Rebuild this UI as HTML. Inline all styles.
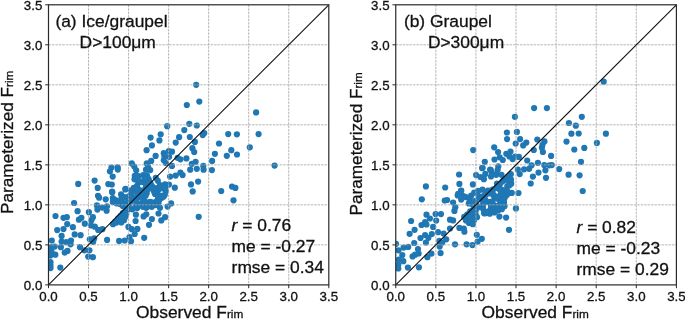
<!DOCTYPE html>
<html lang="en"><head><meta charset="utf-8"><title>Frim scatter</title>
<style>html,body{margin:0;padding:0;background:#fff}body{width:685px;height:319px;overflow:hidden}text{stroke:#111;stroke-width:0.3px}svg{display:block;will-change:transform;transform:translateZ(0)}</style>
</head><body>
<svg width="685" height="319" viewBox="0 0 685 319" font-family="'Liberation Sans', Arial, sans-serif" fill="#111">
<rect width="685" height="319" fill="#fff"/>
<clipPath id="clip-a"><rect x="48.5" y="4.8" width="280.30" height="280.10"/></clipPath>
<g fill="#1f77b4" clip-path="url(#clip-a)">
<circle cx="51.8" cy="240.5" r="3.1"/>
<circle cx="61.6" cy="235.9" r="3.1"/>
<circle cx="61.6" cy="241.5" r="3.1"/>
<circle cx="66.3" cy="242.2" r="3.1"/>
<circle cx="71.0" cy="240.5" r="3.1"/>
<circle cx="70.6" cy="244.3" r="3.1"/>
<circle cx="74.7" cy="234.4" r="3.1"/>
<circle cx="80.6" cy="235.2" r="3.1"/>
<circle cx="50.9" cy="247.2" r="3.1"/>
<circle cx="54.7" cy="246.6" r="3.1"/>
<circle cx="51.5" cy="251.6" r="3.1"/>
<circle cx="55.3" cy="254.7" r="3.1"/>
<circle cx="50.3" cy="255.6" r="3.1"/>
<circle cx="60.9" cy="247.2" r="3.1"/>
<circle cx="64.7" cy="252.6" r="3.1"/>
<circle cx="67.5" cy="250.9" r="3.1"/>
<circle cx="80.0" cy="247.2" r="3.1"/>
<circle cx="84.4" cy="250.3" r="3.1"/>
<circle cx="89.4" cy="250.3" r="3.1"/>
<circle cx="88.2" cy="256.6" r="3.1"/>
<circle cx="92.9" cy="257.2" r="3.1"/>
<circle cx="89.8" cy="239.3" r="3.1"/>
<circle cx="94.2" cy="238.4" r="3.1"/>
<circle cx="93.2" cy="241.8" r="3.1"/>
<circle cx="50.5" cy="262.2" r="3.1"/>
<circle cx="50.5" cy="265.4" r="3.1"/>
<circle cx="50.5" cy="268.1" r="3.1"/>
<circle cx="60.3" cy="267.6" r="3.1"/>
<circle cx="107.1" cy="239.9" r="3.1"/>
<circle cx="119.1" cy="240.9" r="3.1"/>
<circle cx="124.7" cy="240.5" r="3.1"/>
<circle cx="129.5" cy="237.1" r="3.1"/>
<circle cx="131.0" cy="241.2" r="3.1"/>
<circle cx="134.7" cy="234.0" r="3.1"/>
<circle cx="144.2" cy="237.8" r="3.1"/>
<circle cx="74.1" cy="203.0" r="3.1"/>
<circle cx="77.6" cy="211.2" r="3.1"/>
<circle cx="55.5" cy="216.0" r="3.1"/>
<circle cx="63.5" cy="217.8" r="3.1"/>
<circle cx="66.8" cy="217.2" r="3.1"/>
<circle cx="67.2" cy="224.1" r="3.1"/>
<circle cx="72.9" cy="227.2" r="3.1"/>
<circle cx="63.5" cy="229.1" r="3.1"/>
<circle cx="57.2" cy="230.1" r="3.1"/>
<circle cx="78.9" cy="219.7" r="3.1"/>
<circle cx="81.4" cy="217.8" r="3.1"/>
<circle cx="84.8" cy="223.7" r="3.1"/>
<circle cx="88.9" cy="212.2" r="3.1"/>
<circle cx="92.9" cy="217.2" r="3.1"/>
<circle cx="91.4" cy="220.3" r="3.1"/>
<circle cx="78.2" cy="183.9" r="3.1"/>
<circle cx="94.6" cy="180.6" r="3.1"/>
<circle cx="97.7" cy="187.9" r="3.1"/>
<circle cx="111.5" cy="167.6" r="3.1"/>
<circle cx="109.9" cy="171.3" r="3.1"/>
<circle cx="117.7" cy="167.3" r="3.1"/>
<circle cx="117.8" cy="169.6" r="3.1"/>
<circle cx="112.7" cy="176.6" r="3.1"/>
<circle cx="108.3" cy="184.1" r="3.1"/>
<circle cx="111.8" cy="184.5" r="3.1"/>
<circle cx="125.4" cy="189.4" r="3.1"/>
<circle cx="112.2" cy="192.3" r="3.1"/>
<circle cx="167.2" cy="126.2" r="3.1"/>
<circle cx="160.7" cy="134.3" r="3.1"/>
<circle cx="150.6" cy="137.6" r="3.1"/>
<circle cx="159.4" cy="140.4" r="3.1"/>
<circle cx="151.9" cy="145.4" r="3.1"/>
<circle cx="146.6" cy="150.2" r="3.1"/>
<circle cx="179.1" cy="137.2" r="3.1"/>
<circle cx="175.7" cy="142.6" r="3.1"/>
<circle cx="163.8" cy="153.2" r="3.1"/>
<circle cx="168.8" cy="151.0" r="3.1"/>
<circle cx="172.0" cy="151.7" r="3.1"/>
<circle cx="189.3" cy="123.8" r="3.1"/>
<circle cx="196.8" cy="125.5" r="3.1"/>
<circle cx="184.3" cy="130.1" r="3.1"/>
<circle cx="189.8" cy="137.0" r="3.1"/>
<circle cx="202.7" cy="135.1" r="3.1"/>
<circle cx="204.3" cy="133.1" r="3.1"/>
<circle cx="194.9" cy="141.9" r="3.1"/>
<circle cx="192.4" cy="148.2" r="3.1"/>
<circle cx="194.2" cy="152.0" r="3.1"/>
<circle cx="228.2" cy="134.1" r="3.1"/>
<circle cx="236.9" cy="134.3" r="3.1"/>
<circle cx="219.0" cy="143.5" r="3.1"/>
<circle cx="231.3" cy="150.2" r="3.1"/>
<circle cx="258.6" cy="134.1" r="3.1"/>
<circle cx="249.8" cy="147.3" r="3.1"/>
<circle cx="196.2" cy="84.8" r="3.1"/>
<circle cx="199.3" cy="101.6" r="3.1"/>
<circle cx="186.8" cy="105.0" r="3.1"/>
<circle cx="256.1" cy="112.4" r="3.1"/>
<circle cx="274.6" cy="165.6" r="3.1"/>
<circle cx="186.4" cy="158.4" r="3.1"/>
<circle cx="195.6" cy="161.8" r="3.1"/>
<circle cx="191.8" cy="163.8" r="3.1"/>
<circle cx="190.2" cy="169.7" r="3.1"/>
<circle cx="196.8" cy="168.8" r="3.1"/>
<circle cx="203.3" cy="165.9" r="3.1"/>
<circle cx="203.6" cy="169.7" r="3.1"/>
<circle cx="212.1" cy="160.9" r="3.1"/>
<circle cx="211.9" cy="170.1" r="3.1"/>
<circle cx="214.9" cy="153.8" r="3.1"/>
<circle cx="226.8" cy="155.8" r="3.1"/>
<circle cx="237.0" cy="154.5" r="3.1"/>
<circle cx="182.6" cy="175.1" r="3.1"/>
<circle cx="198.1" cy="181.6" r="3.1"/>
<circle cx="191.0" cy="184.4" r="3.1"/>
<circle cx="192.7" cy="191.4" r="3.1"/>
<circle cx="221.2" cy="191.0" r="3.1"/>
<circle cx="232.0" cy="186.6" r="3.1"/>
<circle cx="235.4" cy="187.9" r="3.1"/>
<circle cx="233.5" cy="200.3" r="3.1"/>
<circle cx="198.7" cy="216.8" r="3.1"/>
<circle cx="131.8" cy="163.4" r="3.1"/>
<circle cx="134.3" cy="166.6" r="3.1"/>
<circle cx="136.2" cy="170.3" r="3.1"/>
<circle cx="155.6" cy="155.9" r="3.1"/>
<circle cx="151.2" cy="160.9" r="3.1"/>
<circle cx="146.8" cy="163.4" r="3.1"/>
<circle cx="146.0" cy="169.7" r="3.1"/>
<circle cx="150.2" cy="170.1" r="3.1"/>
<circle cx="148.1" cy="166.6" r="3.1"/>
<circle cx="121.1" cy="194.4" r="3.1"/>
<circle cx="112.1" cy="191.7" r="3.1"/>
<circle cx="125.5" cy="188.9" r="3.1"/>
<circle cx="174.8" cy="187.7" r="3.1"/>
<circle cx="170.1" cy="176.6" r="3.1"/>
<circle cx="175.7" cy="175.6" r="3.1"/>
<circle cx="180.4" cy="172.6" r="3.1"/>
<circle cx="172.0" cy="165.9" r="3.1"/>
<circle cx="164.4" cy="156.5" r="3.1"/>
<circle cx="163.8" cy="160.3" r="3.1"/>
<circle cx="165.9" cy="163.0" r="3.1"/>
<circle cx="169.1" cy="156.8" r="3.1"/>
<circle cx="177.6" cy="157.8" r="3.1"/>
<circle cx="180.4" cy="159.3" r="3.1"/>
<circle cx="171.1" cy="203.4" r="3.1"/>
<circle cx="167.6" cy="206.6" r="3.1"/>
<circle cx="158.5" cy="213.5" r="3.1"/>
<circle cx="165.1" cy="217.2" r="3.1"/>
<circle cx="161.3" cy="220.4" r="3.1"/>
<circle cx="151.9" cy="219.1" r="3.1"/>
<circle cx="149.0" cy="224.8" r="3.1"/>
<circle cx="135.9" cy="214.7" r="3.1"/>
<circle cx="135.6" cy="221.0" r="3.1"/>
<circle cx="128.4" cy="226.9" r="3.1"/>
<circle cx="131.8" cy="229.2" r="3.1"/>
<circle cx="137.4" cy="228.9" r="3.1"/>
<circle cx="160.0" cy="207.8" r="3.1"/>
<circle cx="146.3" cy="214.3" r="3.1"/>
<circle cx="143.6" cy="216.4" r="3.1"/>
<circle cx="98.0" cy="195.8" r="3.1"/>
<circle cx="99.1" cy="197.7" r="3.1"/>
<circle cx="96.9" cy="205.4" r="3.1"/>
<circle cx="97.4" cy="209.6" r="3.1"/>
<circle cx="105.7" cy="199.3" r="3.1"/>
<circle cx="102.2" cy="207.6" r="3.1"/>
<circle cx="107.0" cy="206.3" r="3.1"/>
<circle cx="106.6" cy="210.7" r="3.1"/>
<circle cx="91.0" cy="225.5" r="3.1"/>
<circle cx="94.8" cy="226.7" r="3.1"/>
<circle cx="98.2" cy="229.9" r="3.1"/>
<circle cx="102.4" cy="229.2" r="3.1"/>
<circle cx="143.2" cy="175.1" r="3.1"/>
<circle cx="146.8" cy="175.3" r="3.1"/>
<circle cx="134.8" cy="175.8" r="3.1"/>
<circle cx="138.2" cy="176.1" r="3.1"/>
<circle cx="155.8" cy="177.8" r="3.1"/>
<circle cx="134.5" cy="179.3" r="3.1"/>
<circle cx="137.8" cy="180.8" r="3.1"/>
<circle cx="157.8" cy="180.8" r="3.1"/>
<circle cx="165.0" cy="184.3" r="3.1"/>
<circle cx="169.0" cy="184.6" r="3.1"/>
<circle cx="160.0" cy="185.1" r="3.1"/>
<circle cx="137.0" cy="185.8" r="3.1"/>
<circle cx="133.8" cy="187.8" r="3.1"/>
<circle cx="165.0" cy="187.8" r="3.1"/>
<circle cx="131.2" cy="190.3" r="3.1"/>
<circle cx="165.8" cy="191.3" r="3.1"/>
<circle cx="131.2" cy="193.8" r="3.1"/>
<circle cx="164.8" cy="194.8" r="3.1"/>
<circle cx="128.8" cy="196.3" r="3.1"/>
<circle cx="124.0" cy="197.1" r="3.1"/>
<circle cx="162.2" cy="197.6" r="3.1"/>
<circle cx="112.8" cy="198.1" r="3.1"/>
<circle cx="121.2" cy="199.1" r="3.1"/>
<circle cx="159.5" cy="199.8" r="3.1"/>
<circle cx="115.5" cy="200.1" r="3.1"/>
<circle cx="112.8" cy="202.1" r="3.1"/>
<circle cx="158.5" cy="203.1" r="3.1"/>
<circle cx="116.5" cy="203.3" r="3.1"/>
<circle cx="120.0" cy="204.1" r="3.1"/>
<circle cx="155.5" cy="205.1" r="3.1"/>
<circle cx="139.8" cy="205.3" r="3.1"/>
<circle cx="122.8" cy="206.1" r="3.1"/>
<circle cx="143.0" cy="206.8" r="3.1"/>
<circle cx="151.8" cy="206.8" r="3.1"/>
<circle cx="146.2" cy="207.8" r="3.1"/>
<circle cx="125.5" cy="208.1" r="3.1"/>
<circle cx="137.2" cy="208.1" r="3.1"/>
<circle cx="128.8" cy="209.1" r="3.1"/>
<circle cx="132.2" cy="209.3" r="3.1"/>
<circle cx="137.3" cy="176.2" r="3.1"/>
<circle cx="146.7" cy="175.9" r="3.1"/>
<circle cx="145.1" cy="181.6" r="3.1"/>
<circle cx="149.1" cy="180.9" r="3.1"/>
<circle cx="147.4" cy="185.6" r="3.1"/>
<circle cx="134.9" cy="188.1" r="3.1"/>
<circle cx="145.1" cy="189.7" r="3.1"/>
<circle cx="153.2" cy="189.4" r="3.1"/>
<circle cx="158.0" cy="188.1" r="3.1"/>
<circle cx="163.3" cy="188.3" r="3.1"/>
<circle cx="131.5" cy="193.0" r="3.1"/>
<circle cx="136.7" cy="192.5" r="3.1"/>
<circle cx="142.6" cy="194.4" r="3.1"/>
<circle cx="146.7" cy="193.3" r="3.1"/>
<circle cx="156.2" cy="192.8" r="3.1"/>
<circle cx="124.2" cy="197.3" r="3.1"/>
<circle cx="128.9" cy="198.2" r="3.1"/>
<circle cx="134.6" cy="198.2" r="3.1"/>
<circle cx="139.0" cy="196.9" r="3.1"/>
<circle cx="163.6" cy="196.5" r="3.1"/>
<circle cx="118.3" cy="201.7" r="3.1"/>
<circle cx="123.2" cy="202.9" r="3.1"/>
<circle cx="128.2" cy="201.5" r="3.1"/>
<circle cx="131.4" cy="201.2" r="3.1"/>
<circle cx="136.3" cy="201.2" r="3.1"/>
<circle cx="142.1" cy="202.7" r="3.1"/>
<circle cx="152.0" cy="202.5" r="3.1"/>
<circle cx="155.6" cy="202.2" r="3.1"/>
<circle cx="125.2" cy="205.3" r="3.1"/>
<circle cx="128.8" cy="205.3" r="3.1"/>
<circle cx="135.4" cy="206.7" r="3.1"/>
<circle cx="145.4" cy="206.4" r="3.1"/>
<circle cx="148.9" cy="206.2" r="3.1"/>
<circle cx="153.3" cy="205.0" r="3.1"/>
<circle cx="148.4" cy="202.3" r="3.1"/>
<circle cx="145.6" cy="202.3" r="3.1"/>
<circle cx="143.7" cy="200.4" r="3.1"/>
<circle cx="143.7" cy="197.6" r="3.1"/>
<circle cx="145.6" cy="195.7" r="3.1"/>
<circle cx="150.4" cy="201.9" r="3.1"/>
<circle cx="158.6" cy="197.6" r="3.1"/>
<circle cx="157.5" cy="200.1" r="3.1"/>
<circle cx="155.0" cy="194.0" r="3.1"/>
<circle cx="157.5" cy="195.1" r="3.1"/>
<circle cx="145.8" cy="188.1" r="3.1"/>
<circle cx="143.4" cy="190.5" r="3.1"/>
<circle cx="141.6" cy="190.9" r="3.1"/>
<circle cx="139.8" cy="190.5" r="3.1"/>
<circle cx="138.3" cy="189.6" r="3.1"/>
<circle cx="137.4" cy="188.1" r="3.1"/>
<circle cx="139.8" cy="182.1" r="3.1"/>
<circle cx="141.6" cy="181.7" r="3.1"/>
<circle cx="143.4" cy="182.1" r="3.1"/>
<circle cx="145.8" cy="184.5" r="3.1"/>
<circle cx="161.4" cy="195.9" r="3.1"/>
<circle cx="157.9" cy="190.7" r="3.1"/>
<circle cx="160.0" cy="188.6" r="3.1"/>
<circle cx="151.6" cy="185.5" r="3.1"/>
<circle cx="150.4" cy="182.8" r="3.1"/>
<circle cx="156.0" cy="188.7" r="3.1"/>
<circle cx="153.3" cy="187.5" r="3.1"/>
<circle cx="148.4" cy="178.9" r="3.1"/>
<circle cx="154.1" cy="191.7" r="3.1"/>
<circle cx="147.0" cy="190.3" r="3.1"/>
<circle cx="149.0" cy="188.3" r="3.1"/>
<circle cx="151.8" cy="188.3" r="3.1"/>
<circle cx="144.8" cy="178.0" r="3.1"/>
<circle cx="137.6" cy="178.0" r="3.1"/>
<circle cx="122.8" cy="213.2" r="3.1"/>
<circle cx="126.3" cy="213.7" r="3.1"/>
<circle cx="120.5" cy="215.9" r="3.1"/>
<circle cx="125.3" cy="216.9" r="3.1"/>
<circle cx="118.0" cy="218.7" r="3.1"/>
<circle cx="124.0" cy="220.2" r="3.1"/>
<circle cx="115.5" cy="221.4" r="3.1"/>
<circle cx="121.3" cy="222.4" r="3.1"/>
<circle cx="113.0" cy="224.2" r="3.1"/>
<circle cx="125.7" cy="215.4" r="3.1"/>
<circle cx="118.9" cy="218.2" r="3.1"/>
<circle cx="122.2" cy="217.8" r="3.1"/>
<circle cx="116.0" cy="222.7" r="3.1"/>
<circle cx="120.7" cy="222.0" r="3.1"/>
</g>
<path d="M88.54 4.8V284.9M48.5 244.89H328.8M128.59 4.8V284.9M48.5 204.87H328.8M168.63 4.8V284.9M48.5 164.86H328.8M208.67 4.8V284.9M48.5 124.84H328.8M248.71 4.8V284.9M48.5 84.83H328.8M288.76 4.8V284.9M48.5 44.81H328.8" stroke="#a9a9a9" stroke-width="0.85" stroke-dasharray="2.5 0.95" fill="none"/>
<path d="M48.5 284.9L328.8 4.8" stroke="#111" stroke-width="1.1" fill="none"/>
<rect x="48.5" y="4.8" width="280.3" height="280.09999999999997" fill="none" stroke="#2a2a2a" stroke-width="1.2"/>
<text x="48.50" y="300.6" font-size="13.3" text-anchor="middle">0.0</text>
<text x="42.30" y="289.80" font-size="13.3" text-anchor="end">0.0</text>
<text x="88.54" y="300.6" font-size="13.3" text-anchor="middle">0.5</text>
<text x="42.30" y="249.79" font-size="13.3" text-anchor="end">0.5</text>
<text x="128.59" y="300.6" font-size="13.3" text-anchor="middle">1.0</text>
<text x="42.30" y="209.77" font-size="13.3" text-anchor="end">1.0</text>
<text x="168.63" y="300.6" font-size="13.3" text-anchor="middle">1.5</text>
<text x="42.30" y="169.76" font-size="13.3" text-anchor="end">1.5</text>
<text x="208.67" y="300.6" font-size="13.3" text-anchor="middle">2.0</text>
<text x="42.30" y="129.74" font-size="13.3" text-anchor="end">2.0</text>
<text x="248.71" y="300.6" font-size="13.3" text-anchor="middle">2.5</text>
<text x="42.30" y="89.73" font-size="13.3" text-anchor="end">2.5</text>
<text x="288.76" y="300.6" font-size="13.3" text-anchor="middle">3.0</text>
<text x="42.30" y="49.71" font-size="13.3" text-anchor="end">3.0</text>
<text x="328.80" y="300.6" font-size="13.3" text-anchor="middle">3.5</text>
<text x="42.30" y="9.70" font-size="13.3" text-anchor="end">3.5</text>
<path d="M48.50 284.9v3.3M48.5 284.90h-3.3M88.54 284.9v3.3M48.5 244.89h-3.3M128.59 284.9v3.3M48.5 204.87h-3.3M168.63 284.9v3.3M48.5 164.86h-3.3M208.67 284.9v3.3M48.5 124.84h-3.3M248.71 284.9v3.3M48.5 84.83h-3.3M288.76 284.9v3.3M48.5 44.81h-3.3M328.80 284.9v3.3M48.5 4.80h-3.3" stroke="#2a2a2a" stroke-width="1" fill="none"/>
<text x="136.05" y="318.2" font-size="17.4">Observed F<tspan font-size="11.8">rim</tspan></text>
<text transform="translate(12.90 213.95) rotate(-90)" font-size="17.2">Parameterized F<tspan font-size="11.6">rim</tspan></text>
<clipPath id="clip-b"><rect x="395.75" y="4.8" width="280.65" height="280.10"/></clipPath>
<g fill="#1f77b4" clip-path="url(#clip-b)">
<circle cx="396.0" cy="243.8" r="3.1"/>
<circle cx="414.2" cy="243.0" r="3.1"/>
<circle cx="420.5" cy="238.0" r="3.1"/>
<circle cx="425.1" cy="235.0" r="3.1"/>
<circle cx="428.4" cy="237.8" r="3.1"/>
<circle cx="431.8" cy="234.0" r="3.1"/>
<circle cx="425.9" cy="242.5" r="3.1"/>
<circle cx="403.6" cy="247.6" r="3.1"/>
<circle cx="408.2" cy="246.9" r="3.1"/>
<circle cx="398.5" cy="250.3" r="3.1"/>
<circle cx="418.0" cy="249.1" r="3.1"/>
<circle cx="418.6" cy="253.5" r="3.1"/>
<circle cx="402.3" cy="255.1" r="3.1"/>
<circle cx="412.6" cy="256.4" r="3.1"/>
<circle cx="415.1" cy="254.7" r="3.1"/>
<circle cx="398.8" cy="259.7" r="3.1"/>
<circle cx="403.3" cy="261.2" r="3.1"/>
<circle cx="398.3" cy="264.8" r="3.1"/>
<circle cx="398.3" cy="268.5" r="3.1"/>
<circle cx="407.9" cy="267.6" r="3.1"/>
<circle cx="418.9" cy="267.3" r="3.1"/>
<circle cx="431.4" cy="253.7" r="3.1"/>
<circle cx="427.4" cy="257.2" r="3.1"/>
<circle cx="440.6" cy="253.1" r="3.1"/>
<circle cx="439.3" cy="240.9" r="3.1"/>
<circle cx="442.2" cy="242.5" r="3.1"/>
<circle cx="446.2" cy="239.3" r="3.1"/>
<circle cx="439.7" cy="246.6" r="3.1"/>
<circle cx="455.0" cy="244.3" r="3.1"/>
<circle cx="466.6" cy="244.3" r="3.1"/>
<circle cx="472.4" cy="245.1" r="3.1"/>
<circle cx="409.6" cy="233.8" r="3.1"/>
<circle cx="438.0" cy="232.2" r="3.1"/>
<circle cx="443.6" cy="233.5" r="3.1"/>
<circle cx="476.8" cy="234.8" r="3.1"/>
<circle cx="481.8" cy="238.8" r="3.1"/>
<circle cx="477.6" cy="241.6" r="3.1"/>
<circle cx="421.8" cy="199.3" r="3.1"/>
<circle cx="444.7" cy="200.5" r="3.1"/>
<circle cx="447.1" cy="200.0" r="3.1"/>
<circle cx="453.1" cy="202.5" r="3.1"/>
<circle cx="455.3" cy="207.2" r="3.1"/>
<circle cx="454.4" cy="210.9" r="3.1"/>
<circle cx="411.1" cy="221.0" r="3.1"/>
<circle cx="426.5" cy="214.7" r="3.1"/>
<circle cx="429.9" cy="218.5" r="3.1"/>
<circle cx="435.6" cy="214.1" r="3.1"/>
<circle cx="441.0" cy="214.1" r="3.1"/>
<circle cx="436.2" cy="220.6" r="3.1"/>
<circle cx="421.5" cy="225.0" r="3.1"/>
<circle cx="425.1" cy="222.2" r="3.1"/>
<circle cx="426.5" cy="224.5" r="3.1"/>
<circle cx="433.1" cy="226.9" r="3.1"/>
<circle cx="414.6" cy="229.8" r="3.1"/>
<circle cx="450.0" cy="219.7" r="3.1"/>
<circle cx="453.1" cy="220.4" r="3.1"/>
<circle cx="450.0" cy="228.5" r="3.1"/>
<circle cx="459.4" cy="227.9" r="3.1"/>
<circle cx="463.8" cy="228.5" r="3.1"/>
<circle cx="464.4" cy="231.7" r="3.1"/>
<circle cx="461.2" cy="190.6" r="3.1"/>
<circle cx="457.7" cy="195.4" r="3.1"/>
<circle cx="463.4" cy="196.1" r="3.1"/>
<circle cx="466.1" cy="197.2" r="3.1"/>
<circle cx="461.2" cy="199.6" r="3.1"/>
<circle cx="515.9" cy="208.4" r="3.1"/>
<circle cx="509.0" cy="229.8" r="3.1"/>
<circle cx="506.1" cy="217.6" r="3.1"/>
<circle cx="499.4" cy="216.6" r="3.1"/>
<circle cx="518.5" cy="193.0" r="3.1"/>
<circle cx="425.9" cy="186.4" r="3.1"/>
<circle cx="445.2" cy="187.5" r="3.1"/>
<circle cx="459.1" cy="174.5" r="3.1"/>
<circle cx="459.4" cy="183.9" r="3.1"/>
<circle cx="461.1" cy="190.8" r="3.1"/>
<circle cx="458.2" cy="193.9" r="3.1"/>
<circle cx="472.9" cy="184.4" r="3.1"/>
<circle cx="476.1" cy="175.1" r="3.1"/>
<circle cx="482.2" cy="168.2" r="3.1"/>
<circle cx="480.4" cy="177.0" r="3.1"/>
<circle cx="483.9" cy="179.2" r="3.1"/>
<circle cx="485.3" cy="173.9" r="3.1"/>
<circle cx="490.1" cy="169.5" r="3.1"/>
<circle cx="491.8" cy="172.6" r="3.1"/>
<circle cx="491.0" cy="176.5" r="3.1"/>
<circle cx="496.2" cy="174.8" r="3.1"/>
<circle cx="501.5" cy="174.8" r="3.1"/>
<circle cx="498.3" cy="166.4" r="3.1"/>
<circle cx="497.6" cy="170.0" r="3.1"/>
<circle cx="527.2" cy="160.5" r="3.1"/>
<circle cx="551.1" cy="155.9" r="3.1"/>
<circle cx="537.9" cy="162.8" r="3.1"/>
<circle cx="531.6" cy="165.3" r="3.1"/>
<circle cx="529.1" cy="168.8" r="3.1"/>
<circle cx="524.1" cy="169.3" r="3.1"/>
<circle cx="544.2" cy="165.1" r="3.1"/>
<circle cx="549.4" cy="165.3" r="3.1"/>
<circle cx="551.8" cy="165.1" r="3.1"/>
<circle cx="545.4" cy="170.3" r="3.1"/>
<circle cx="538.5" cy="172.6" r="3.1"/>
<circle cx="532.9" cy="176.6" r="3.1"/>
<circle cx="546.0" cy="177.8" r="3.1"/>
<circle cx="530.7" cy="183.5" r="3.1"/>
<circle cx="559.2" cy="169.1" r="3.1"/>
<circle cx="517.8" cy="169.7" r="3.1"/>
<circle cx="519.7" cy="174.1" r="3.1"/>
<circle cx="484.8" cy="161.8" r="3.1"/>
<circle cx="482.6" cy="167.8" r="3.1"/>
<circle cx="490.8" cy="170.1" r="3.1"/>
<circle cx="494.5" cy="159.5" r="3.1"/>
<circle cx="499.7" cy="157.3" r="3.1"/>
<circle cx="502.8" cy="160.0" r="3.1"/>
<circle cx="506.3" cy="153.8" r="3.1"/>
<circle cx="510.5" cy="151.5" r="3.1"/>
<circle cx="509.4" cy="156.5" r="3.1"/>
<circle cx="512.6" cy="159.1" r="3.1"/>
<circle cx="515.1" cy="156.5" r="3.1"/>
<circle cx="518.9" cy="156.9" r="3.1"/>
<circle cx="514.9" cy="116.8" r="3.1"/>
<circle cx="506.9" cy="132.5" r="3.1"/>
<circle cx="516.9" cy="131.9" r="3.1"/>
<circle cx="507.1" cy="139.1" r="3.1"/>
<circle cx="520.1" cy="139.1" r="3.1"/>
<circle cx="515.7" cy="143.5" r="3.1"/>
<circle cx="526.3" cy="142.6" r="3.1"/>
<circle cx="523.2" cy="145.4" r="3.1"/>
<circle cx="494.2" cy="147.3" r="3.1"/>
<circle cx="498.1" cy="152.0" r="3.1"/>
<circle cx="537.3" cy="139.5" r="3.1"/>
<circle cx="544.4" cy="141.4" r="3.1"/>
<circle cx="542.5" cy="144.8" r="3.1"/>
<circle cx="541.9" cy="147.7" r="3.1"/>
<circle cx="542.9" cy="152.0" r="3.1"/>
<circle cx="533.8" cy="150.0" r="3.1"/>
<circle cx="473.2" cy="150.1" r="3.1"/>
<circle cx="581.8" cy="116.8" r="3.1"/>
<circle cx="568.9" cy="123.0" r="3.1"/>
<circle cx="575.8" cy="125.7" r="3.1"/>
<circle cx="571.4" cy="133.7" r="3.1"/>
<circle cx="578.7" cy="133.5" r="3.1"/>
<circle cx="566.5" cy="141.6" r="3.1"/>
<circle cx="574.3" cy="149.5" r="3.1"/>
<circle cx="584.3" cy="147.9" r="3.1"/>
<circle cx="605.9" cy="133.7" r="3.1"/>
<circle cx="596.9" cy="142.9" r="3.1"/>
<circle cx="581.0" cy="161.8" r="3.1"/>
<circle cx="568.6" cy="174.7" r="3.1"/>
<circle cx="579.6" cy="175.3" r="3.1"/>
<circle cx="582.7" cy="191.0" r="3.1"/>
<circle cx="603.7" cy="81.7" r="3.1"/>
<circle cx="534.1" cy="108.1" r="3.1"/>
<circle cx="546.9" cy="108.1" r="3.1"/>
<circle cx="510.8" cy="174.2" r="3.1"/>
<circle cx="508.0" cy="177.2" r="3.1"/>
<circle cx="503.8" cy="179.4" r="3.1"/>
<circle cx="511.0" cy="179.7" r="3.1"/>
<circle cx="497.0" cy="183.7" r="3.1"/>
<circle cx="511.2" cy="183.7" r="3.1"/>
<circle cx="496.8" cy="187.7" r="3.1"/>
<circle cx="493.2" cy="189.4" r="3.1"/>
<circle cx="482.5" cy="189.7" r="3.1"/>
<circle cx="488.0" cy="190.7" r="3.1"/>
<circle cx="478.2" cy="190.9" r="3.1"/>
<circle cx="474.2" cy="192.7" r="3.1"/>
<circle cx="511.8" cy="192.9" r="3.1"/>
<circle cx="506.8" cy="194.9" r="3.1"/>
<circle cx="471.2" cy="195.7" r="3.1"/>
<circle cx="504.5" cy="198.2" r="3.1"/>
<circle cx="469.8" cy="199.4" r="3.1"/>
<circle cx="504.0" cy="202.2" r="3.1"/>
<circle cx="468.8" cy="203.4" r="3.1"/>
<circle cx="504.5" cy="206.2" r="3.1"/>
<circle cx="501.8" cy="209.2" r="3.1"/>
<circle cx="498.0" cy="210.4" r="3.1"/>
<circle cx="470.2" cy="211.4" r="3.1"/>
<circle cx="494.5" cy="212.4" r="3.1"/>
<circle cx="485.8" cy="213.2" r="3.1"/>
<circle cx="489.8" cy="213.7" r="3.1"/>
<circle cx="467.5" cy="214.4" r="3.1"/>
<circle cx="464.2" cy="216.9" r="3.1"/>
<circle cx="477.0" cy="217.2" r="3.1"/>
<circle cx="474.0" cy="220.2" r="3.1"/>
<circle cx="466.0" cy="220.4" r="3.1"/>
<circle cx="469.0" cy="222.9" r="3.1"/>
<circle cx="472.8" cy="224.2" r="3.1"/>
<circle cx="504.0" cy="180.0" r="3.1"/>
<circle cx="507.8" cy="180.2" r="3.1"/>
<circle cx="499.8" cy="184.8" r="3.1"/>
<circle cx="507.3" cy="186.2" r="3.1"/>
<circle cx="491.0" cy="190.5" r="3.1"/>
<circle cx="503.0" cy="190.2" r="3.1"/>
<circle cx="478.7" cy="196.3" r="3.1"/>
<circle cx="482.9" cy="196.3" r="3.1"/>
<circle cx="499.3" cy="196.3" r="3.1"/>
<circle cx="505.4" cy="195.7" r="3.1"/>
<circle cx="475.4" cy="200.9" r="3.1"/>
<circle cx="481.2" cy="199.4" r="3.1"/>
<circle cx="502.5" cy="199.7" r="3.1"/>
<circle cx="471.6" cy="203.6" r="3.1"/>
<circle cx="476.9" cy="205.9" r="3.1"/>
<circle cx="500.0" cy="206.2" r="3.1"/>
<circle cx="492.4" cy="209.4" r="3.1"/>
<circle cx="497.9" cy="210.0" r="3.1"/>
<circle cx="466.8" cy="215.4" r="3.1"/>
<circle cx="471.4" cy="215.2" r="3.1"/>
<circle cx="469.2" cy="219.8" r="3.1"/>
<circle cx="484.1" cy="211.3" r="3.1"/>
<circle cx="475.3" cy="211.3" r="3.1"/>
<circle cx="475.6" cy="209.6" r="3.1"/>
<circle cx="476.6" cy="208.2" r="3.1"/>
<circle cx="478.0" cy="207.2" r="3.1"/>
<circle cx="479.7" cy="206.9" r="3.1"/>
<circle cx="481.4" cy="207.2" r="3.1"/>
<circle cx="482.8" cy="208.2" r="3.1"/>
<circle cx="484.1" cy="213.3" r="3.1"/>
<circle cx="475.6" cy="215.0" r="3.1"/>
<circle cx="475.3" cy="213.3" r="3.1"/>
<circle cx="488.6" cy="202.0" r="3.1"/>
<circle cx="486.9" cy="201.7" r="3.1"/>
<circle cx="485.5" cy="200.7" r="3.1"/>
<circle cx="484.6" cy="199.3" r="3.1"/>
<circle cx="484.2" cy="197.6" r="3.1"/>
<circle cx="484.6" cy="195.9" r="3.1"/>
<circle cx="485.5" cy="194.5" r="3.1"/>
<circle cx="486.9" cy="193.6" r="3.1"/>
<circle cx="488.6" cy="193.2" r="3.1"/>
<circle cx="494.6" cy="197.6" r="3.1"/>
<circle cx="491.9" cy="201.7" r="3.1"/>
<circle cx="490.2" cy="202.0" r="3.1"/>
<circle cx="490.2" cy="193.2" r="3.1"/>
<circle cx="491.9" cy="193.6" r="3.1"/>
<circle cx="493.3" cy="194.5" r="3.1"/>
<circle cx="494.2" cy="195.9" r="3.1"/>
<circle cx="491.2" cy="205.8" r="3.1"/>
<circle cx="482.8" cy="205.8" r="3.1"/>
<circle cx="483.1" cy="204.2" r="3.1"/>
<circle cx="484.0" cy="202.8" r="3.1"/>
<circle cx="490.9" cy="204.2" r="3.1"/>
<circle cx="491.2" cy="207.6" r="3.1"/>
<circle cx="490.0" cy="210.6" r="3.1"/>
<circle cx="488.6" cy="211.5" r="3.1"/>
<circle cx="487.0" cy="211.8" r="3.1"/>
<circle cx="500.4" cy="202.3" r="3.1"/>
<circle cx="498.0" cy="205.9" r="3.1"/>
<circle cx="495.0" cy="205.9" r="3.1"/>
<circle cx="492.9" cy="203.8" r="3.1"/>
<circle cx="496.5" cy="198.4" r="3.1"/>
<circle cx="499.2" cy="199.6" r="3.1"/>
<circle cx="501.3" cy="192.5" r="3.1"/>
<circle cx="501.0" cy="194.1" r="3.1"/>
<circle cx="497.0" cy="196.8" r="3.1"/>
<circle cx="498.6" cy="188.5" r="3.1"/>
<circle cx="500.0" cy="189.5" r="3.1"/>
<circle cx="501.0" cy="190.9" r="3.1"/>
<circle cx="509.2" cy="192.8" r="3.1"/>
<circle cx="507.1" cy="190.7" r="3.1"/>
<circle cx="509.2" cy="185.6" r="3.1"/>
<circle cx="502.4" cy="181.6" r="3.1"/>
<circle cx="474.2" cy="207.5" r="3.1"/>
<circle cx="473.0" cy="210.2" r="3.1"/>
<circle cx="473.0" cy="204.8" r="3.1"/>
</g>
<path d="M435.84 4.8V284.9M395.75 244.89H676.4M475.94 4.8V284.9M395.75 204.87H676.4M516.03 4.8V284.9M395.75 164.86H676.4M556.12 4.8V284.9M395.75 124.84H676.4M596.21 4.8V284.9M395.75 84.83H676.4M636.31 4.8V284.9M395.75 44.81H676.4" stroke="#a9a9a9" stroke-width="0.85" stroke-dasharray="2.5 0.95" fill="none"/>
<path d="M395.75 284.9L676.4 4.8" stroke="#111" stroke-width="1.1" fill="none"/>
<rect x="395.75" y="4.8" width="280.65" height="280.09999999999997" fill="none" stroke="#2a2a2a" stroke-width="1.2"/>
<text x="395.75" y="300.6" font-size="13.3" text-anchor="middle">0.0</text>
<text x="389.55" y="289.80" font-size="13.3" text-anchor="end">0.0</text>
<text x="435.84" y="300.6" font-size="13.3" text-anchor="middle">0.5</text>
<text x="389.55" y="249.79" font-size="13.3" text-anchor="end">0.5</text>
<text x="475.94" y="300.6" font-size="13.3" text-anchor="middle">1.0</text>
<text x="389.55" y="209.77" font-size="13.3" text-anchor="end">1.0</text>
<text x="516.03" y="300.6" font-size="13.3" text-anchor="middle">1.5</text>
<text x="389.55" y="169.76" font-size="13.3" text-anchor="end">1.5</text>
<text x="556.12" y="300.6" font-size="13.3" text-anchor="middle">2.0</text>
<text x="389.55" y="129.74" font-size="13.3" text-anchor="end">2.0</text>
<text x="596.21" y="300.6" font-size="13.3" text-anchor="middle">2.5</text>
<text x="389.55" y="89.73" font-size="13.3" text-anchor="end">2.5</text>
<text x="636.31" y="300.6" font-size="13.3" text-anchor="middle">3.0</text>
<text x="389.55" y="49.71" font-size="13.3" text-anchor="end">3.0</text>
<text x="676.40" y="300.6" font-size="13.3" text-anchor="middle">3.5</text>
<text x="389.55" y="9.70" font-size="13.3" text-anchor="end">3.5</text>
<path d="M395.75 284.9v3.3M395.75 284.90h-3.3M435.84 284.9v3.3M395.75 244.89h-3.3M475.94 284.9v3.3M395.75 204.87h-3.3M516.03 284.9v3.3M395.75 164.86h-3.3M556.12 284.9v3.3M395.75 124.84h-3.3M596.21 284.9v3.3M395.75 84.83h-3.3M636.31 284.9v3.3M395.75 44.81h-3.3M676.40 284.9v3.3M395.75 4.80h-3.3" stroke="#2a2a2a" stroke-width="1" fill="none"/>
<text x="481.58" y="318.2" font-size="17.4">Observed F<tspan font-size="11.8">rim</tspan></text>
<text transform="translate(361.65 215.55) rotate(-90)" font-size="17.2">Parameterized F<tspan font-size="11.6">rim</tspan></text>
<text x="55.4" y="26.8" font-size="17.4">(a) Ice/graupel</text>
<text x="79.6" y="47.6" font-size="17.4">D&gt;100μm</text>
<text x="231.6" y="231.2" font-size="17.4"><tspan font-style="italic">r</tspan> = 0.76</text>
<text x="231.6" y="252.2" font-size="17.4">me = -0.27</text>
<text x="231.6" y="273.1" font-size="17.4">rmse = 0.34</text>
<text x="403.9" y="26.8" font-size="17.4">(b) Graupel</text>
<text x="427.9" y="47.6" font-size="17.4">D&gt;300μm</text>
<text x="576.5" y="233.4" font-size="17.4"><tspan font-style="italic">r</tspan> = 0.82</text>
<text x="576.5" y="254.3" font-size="17.4">me = -0.23</text>
<text x="576.5" y="275.2" font-size="17.4">rmse = 0.29</text>
</svg>
</body></html>
